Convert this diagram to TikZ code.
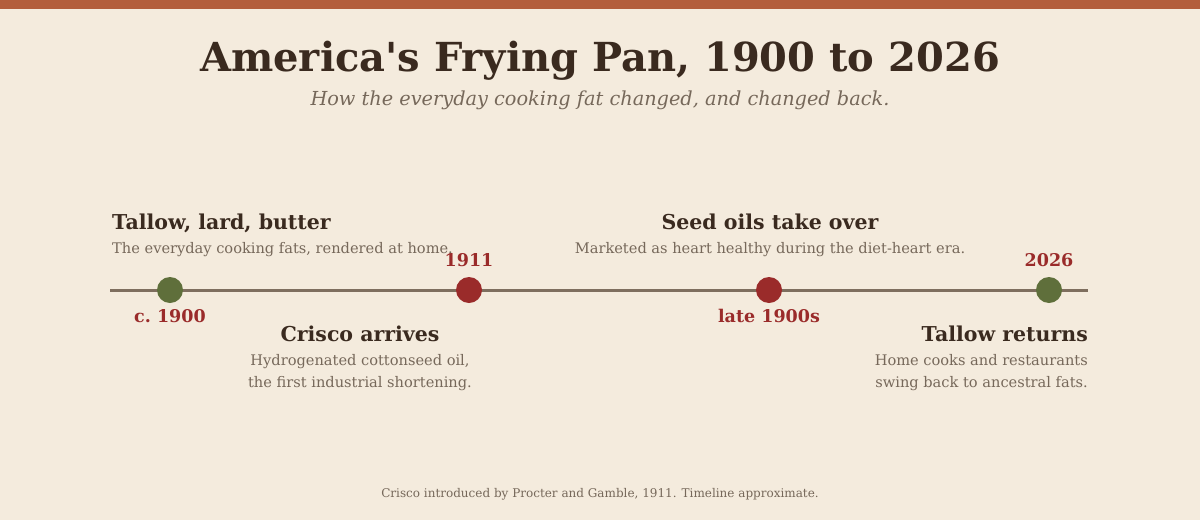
\documentclass[tikz,border=0pt]{standalone}
\usepackage{fontspec}
\setmainfont{DejaVu Serif}[Ligatures=TeXOff]
\usepackage{xcolor}
\usepackage{tikz}
\definecolor{paper}{HTML}{F4EBDD}
\definecolor{topbar}{HTML}{B35E3C}
\definecolor{ink}{HTML}{3A2A1F}
\definecolor{muted}{HTML}{76685A}
\definecolor{rust}{HTML}{9A2B2A}
\definecolor{olive}{HTML}{5F6F3B}
\definecolor{rail}{HTML}{7E6E5E}
\tikzset{
  axis/.style={draw=rail, line width=3pt},
  dotG/.style={circle, fill=olive, minimum size=26pt, inner sep=0pt},
  dotR/.style={circle, fill=rust, minimum size=26pt, inner sep=0pt},
  yearlab/.style={text=rust, font=\bfseries\fontsize{17.5}{20}\selectfont, inner sep=0pt},
  evhead/.style={text=ink, font=\bfseries\fontsize{20.5}{24}\selectfont, inner sep=0pt},
  evtext/.style={text=muted, font=\fontsize{14.6}{22}\selectfont, inner sep=0pt}
}

\begin{document}
\begin{tikzpicture}[x=1pt, y=-1pt]
  \fill[paper] (0,0) rectangle (1200,520);
  \fill[topbar] (0,0) rectangle (1200,9);
  \useasboundingbox (0,0) rectangle (1200,520);

  \node[text=ink, font=\bfseries\fontsize{40}{46}\selectfont, inner sep=0pt, anchor=base] (title) at (600,71) {America's Frying Pan, 1900 to 2026};
  \node[text=muted, font=\itshape\fontsize{19.3}{22}\selectfont, inner sep=0pt, anchor=base] (subtitle) at (600,105) {How the everyday cooking fat changed, and changed back.};

  \coordinate (tstart) at (110,290);
  \coordinate (tend) at (1088,290);
  \draw[axis] (tstart) -- (tend);

  % Dots on the line
  \node[dotG] (d1900) at (170,290) {};
  \node[dotR] (d1911) at (469,290) {};
  \node[dotR] (dlate) at (769,290) {};
  \node[dotG] (d2026) at (1049,290) {};

  \node[yearlab, anchor=base] (y1900) at (170,322) {c.\ 1900};
  \node[yearlab, anchor=base] (y1911) at (469,266) {1911};
  \node[yearlab, anchor=base] (ylate) at (769,322) {late 1900s};
  \node[yearlab, anchor=base] (y2026) at (1049,266) {2026};

  % Event texts
  \node[evhead, anchor=base west] (h1) at (112,229) {Tallow, lard, butter};
  \node[evtext, anchor=base west] (t1) at (112,253) {The everyday cooking fats, rendered at home.};

  \node[evhead, anchor=base] (h2) at (360,341) {Crisco arrives};
  \node[evtext, anchor=base, align=center] (t2) at (360,387) {Hydrogenated cottonseed oil,\\the first industrial shortening.};

  \node[evhead, anchor=base] (h3) at (770,229) {Seed oils take over};
  \node[evtext, anchor=base] (t3) at (770,253) {Marketed as heart healthy during the diet-heart era.};

  \node[evhead, anchor=base east] (h4) at (1088,341) {Tallow returns};
  \node[evtext, anchor=base east, align=right] (t4) at (1088,387) {Home cooks and restaurants\\swing back to ancestral fats.};

  \node[text=muted, font=\fontsize{12}{14}\selectfont, inner sep=0pt, anchor=base] (foot) at (600,497) {Crisco introduced by Procter and Gamble, 1911. Timeline approximate.};
\end{tikzpicture}
\end{document}
